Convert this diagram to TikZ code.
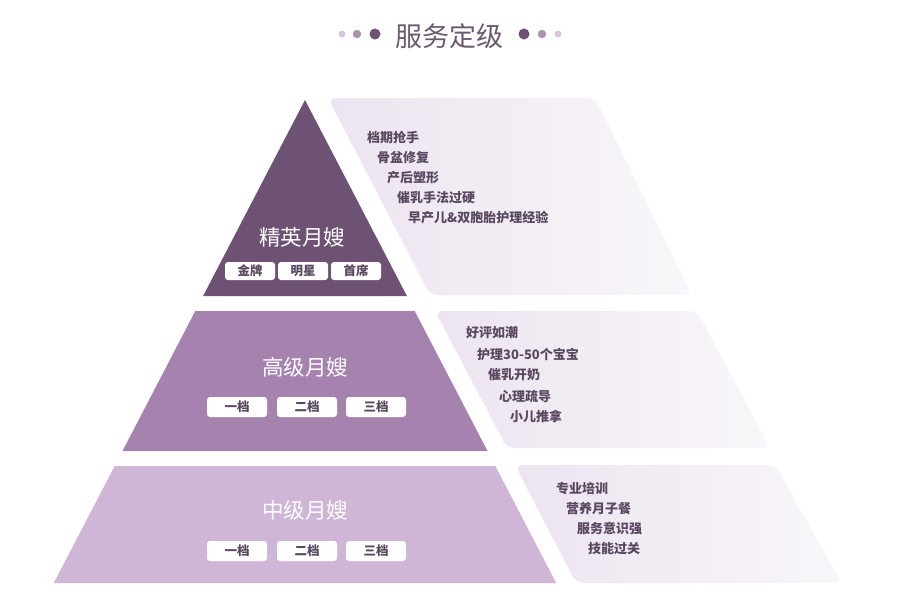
\documentclass[tikz,border=0pt]{standalone}
\usepackage{fontspec}
\setmainfont{Noto Sans CJK SC}
\usepackage{tikz}
\definecolor{eliteC}{HTML}{6E5274}
\definecolor{seniorC}{HTML}{A583AE}
\definecolor{middleC}{HTML}{CFB5D6}
\definecolor{panelL}{HTML}{ECE4F0}
\definecolor{panelR}{HTML}{F9F7FA}
\definecolor{inkC}{HTML}{5A4860}
\definecolor{titleC}{HTML}{6B5A70}
\definecolor{dotL}{HTML}{D8C6DC}
\definecolor{dotM}{HTML}{A892AE}

\begin{document}
\begin{tikzpicture}[x=1pt,y=-1pt,
    tag/.style={fill=white,rounded corners=3pt,inner sep=0pt,text=inkC,font=\fontsize{12.5}{14}\selectfont\bfseries},
    tier/.style={text=white,inner sep=0pt,font=\fontsize{21.5}{24}\selectfont},
    item/.style={anchor=west,inner sep=0pt,text=inkC,font=\fontsize{13}{15}\selectfont\bfseries},
    panel/.style={left color=panelL,right color=panelR,rounded corners=8pt}]
        \useasboundingbox (0,0) rectangle (900,603);
        \fill[dotL] (342,34) circle (3.5);
        \fill[dotM] (357,34) circle (4.2);
        \fill[eliteC] (375,34) circle (5.5);
        \fill[eliteC] (524,34) circle (5.5);
        \fill[dotM] (542,34) circle (4.2);
        \fill[dotL] (558,34) circle (3.5);
        \node[text=titleC,inner sep=0pt,font=\fontsize{27}{30}\selectfont] (title) at (449.5,36) {服务定级};

        \shade[panel] (328,98) -- (595,98) -- (692,295) -- (430,295) -- cycle;
        \shade[panel] (435,311) -- (697,311) -- (770,448) -- (507,448) -- cycle;
        \shade[panel] (515,465) -- (775,465) -- (842,583) -- (576,583) -- cycle;

        \fill[eliteC] (305,100) -- (406.9,296) -- (203.1,296) -- cycle;
        \fill[seniorC] (195.3,311) -- (414.7,311) -- (487.5,451) -- (122.5,451) -- cycle;
        \fill[middleC] (114.7,466) -- (495.3,466) -- (556.2,583) -- (53.8,583) -- cycle;

        \node[tier] (elite) at (302,237) {精英月嫂};
        \node[tag,minimum width=50,minimum height=18] (gold) at (250,271) {金牌};
        \node[tag,minimum width=50,minimum height=18] (star) at (303,271) {明星};
        \node[tag,minimum width=50,minimum height=18] (chief) at (356,271) {首席};

        \node[tier] (senior) at (305,367) {高级月嫂};
        \node[tag,minimum width=60,minimum height=20] (sA) at (237,407) {一档};
        \node[tag,minimum width=60,minimum height=20] (sB) at (307,407) {二档};
        \node[tag,minimum width=60,minimum height=20] (sC) at (376,407) {三档};

        \node[tier] (middle) at (305,510) {中级月嫂};
        \node[tag,minimum width=60,minimum height=20] (mA) at (237,551) {一档};
        \node[tag,minimum width=60,minimum height=20] (mB) at (307,551) {二档};
        \node[tag,minimum width=60,minimum height=20] (mC) at (376,551) {三档};

        \node[item] (e1) at (367,137) {档期抢手};
        \node[item] (e2) at (377,158) {骨盆修复};
        \node[item] (e3) at (387,178) {产后塑形};
        \node[item] (e4) at (397,198) {催乳手法过硬};
        \node[item] (e5) at (408,218) {早产儿\&双胞胎护理经验};

        \node[item] (s1) at (466,333) {好评如潮};
        \node[item] (s2) at (477,354) {护理30-50个宝宝};
        \node[item] (s3) at (488,375) {催乳开奶};
        \node[item] (s4) at (499,396) {心理疏导};
        \node[item] (s5) at (510,416) {小儿推拿};

        \node[item] (m1) at (556,489) {专业培训};
        \node[item] (m2) at (566,509) {营养月子餐};
        \node[item] (m3) at (577,529) {服务意识强};
        \node[item] (m4) at (588,549) {技能过关};
    \end{tikzpicture}
\end{document}
